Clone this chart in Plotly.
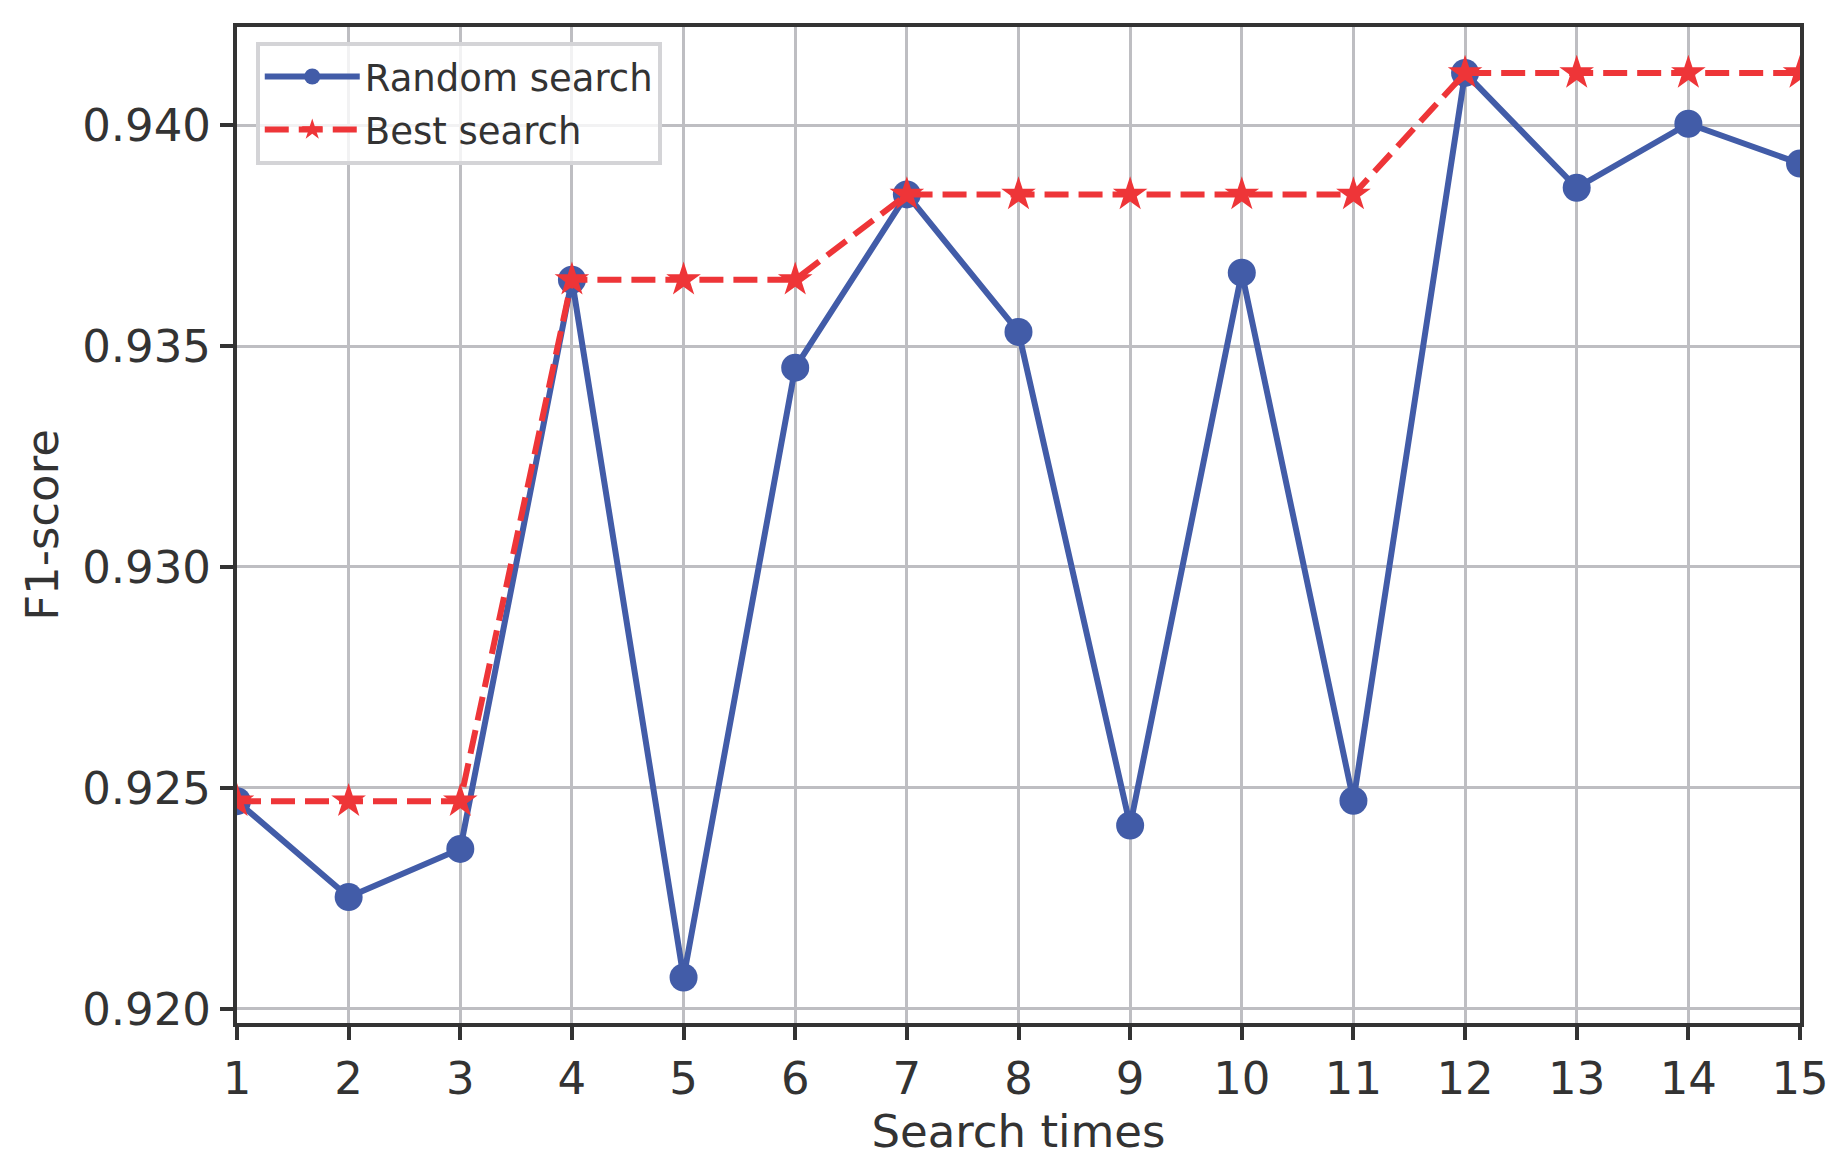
import plotly.graph_objects as go

search_times = list(range(1, 16))
random_search = [0.92470, 0.92253, 0.92362, 0.93650, 0.92071, 0.93451, 0.93843,
                 0.93532, 0.92415, 0.93666, 0.92471, 0.94118, 0.93858, 0.94003, 0.93913]
best_search = [0.92470, 0.92470, 0.92470, 0.93650, 0.93650, 0.93650, 0.93843,
               0.93843, 0.93843, 0.93843, 0.93843, 0.94118, 0.94118, 0.94118, 0.94118]
y_ticks = [0.920, 0.925, 0.930, 0.935, 0.940]
y_tick_text = ["0.920", "0.925", "0.930", "0.935", "0.940"]

BLUE = "#425ca8"
RED = "#ee3538"
TEXT = "#333333"
GRID = "#bebec2"
FONT = "DejaVu Sans"

fig = go.Figure()
fig.add_trace(go.Scatter(
    x=search_times, y=random_search, name="Random search",
    mode="lines+markers", legendgroup="a",
    line=dict(color=BLUE, width=6),
    marker=dict(symbol="circle", size=28, color=BLUE),
))
fig.add_trace(go.Scatter(
    x=search_times, y=best_search, name="Best search",
    mode="lines+markers", legendgroup="b",
    line=dict(color=RED, width=6, dash="24px,10px"),
    marker=dict(symbol="star", size=26, color=RED),
))

axis_common = dict(
    showline=True, linecolor=TEXT, linewidth=4, mirror=True,
    ticks="outside", ticklen=13, tickwidth=3.5, tickcolor=TEXT,
    showgrid=True, gridcolor=GRID, gridwidth=3,
    zeroline=False, automargin=False,
    tickfont=dict(family=FONT, size=45, color=TEXT),
)

fig.update_xaxes(
    range=[1, 15], tickmode="array", tickvals=search_times,
    ticktext=[str(v) for v in search_times],
    title=dict(text="Search times", font=dict(family=FONT, size=45, color=TEXT), standoff=10),
    **axis_common,
)
fig.update_yaxes(
    range=[0.91968, 0.94222], tickmode="array", tickvals=y_ticks, ticktext=y_tick_text,
    title=dict(text="F1-score", font=dict(family=FONT, size=45, color=TEXT), standoff=10),
    **axis_common,
)

fig.update_layout(
    width=1844, height=1168,
    margin=dict(l=229, r=52, t=19, b=153),
    paper_bgcolor="white", plot_bgcolor="white",
    font=dict(family=FONT, color=TEXT),
    showlegend=True,
    legend=dict(
        x=0.012, y=0.985, xanchor="left", yanchor="top",
        bgcolor="rgba(255,255,255,0.8)", bordercolor="#d4d4d7", borderwidth=4,
        font=dict(family=FONT, size=37, color=TEXT),
        itemwidth=95, tracegroupgap=2,
    ),
)

fig.write_html("out.html")
